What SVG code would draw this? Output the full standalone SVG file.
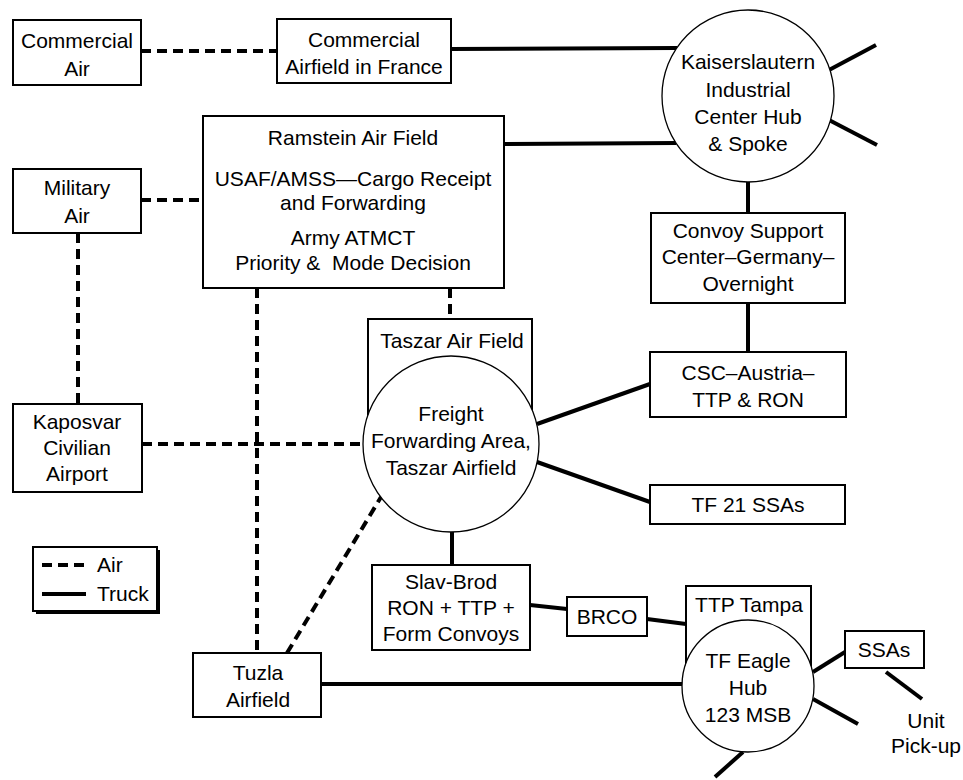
<svg xmlns="http://www.w3.org/2000/svg" width="963" height="780" viewBox="0 0 963 780">
  <style>
    .box { fill: #fff; stroke: #000; stroke-width: 2; }
    .hub { fill: #fff; stroke: #000; stroke-width: 1.3; }
    .t { font-family: "Liberation Sans", Arial, sans-serif; font-size: 21px; fill: #000; text-anchor: middle; }
    .ts { font-family: "Liberation Sans", Arial, sans-serif; font-size: 21px; fill: #000; }
    .truck { stroke: #000; stroke-width: 4; fill: none; }
    .air { stroke: #000; stroke-width: 4; fill: none; stroke-dasharray: 10 6; }
  </style>

  <!-- connectors (drawn first so boxes and hubs sit on top) -->
  <g id="connectors">
    <!-- air routes -->
    <line class="air" x1="141" y1="51" x2="277" y2="51"/>
    <line class="air" x1="141" y1="200" x2="203" y2="200"/>
    <line class="air" x1="78" y1="233" x2="78" y2="404"/>
    <line class="air" x1="142" y1="444" x2="364" y2="444"/>
    <line class="air" x1="257" y1="288" x2="257" y2="653"/>
    <line class="air" x1="450" y1="288" x2="450" y2="319"/>
    <line class="air" x1="287" y1="653" x2="381" y2="497"/>
    <!-- truck routes -->
    <line class="truck" x1="451" y1="49" x2="677" y2="48"/>
    <line class="truck" x1="504" y1="144" x2="676" y2="143"/>
    <line class="truck" x1="829" y1="70" x2="876" y2="45"/>
    <line class="truck" x1="829" y1="120" x2="877" y2="145"/>
    <line class="truck" x1="748" y1="182" x2="748" y2="213"/>
    <line class="truck" x1="748" y1="303" x2="748" y2="352"/>
    <line class="truck" x1="537" y1="424" x2="650" y2="384"/>
    <line class="truck" x1="537" y1="462" x2="650" y2="502"/>
    <line class="truck" x1="452" y1="532" x2="452" y2="565"/>
    <line class="truck" x1="530" y1="605" x2="567" y2="609"/>
    <line class="truck" x1="647" y1="619" x2="686" y2="624"/>
    <line class="truck" x1="321" y1="684" x2="683" y2="684"/>
    <line class="truck" x1="813" y1="672" x2="845" y2="652"/>
    <line class="truck" x1="886" y1="672" x2="922" y2="699"/>
    <line class="truck" x1="813" y1="699" x2="858" y2="724"/>
    <line class="truck" x1="743" y1="752" x2="715" y2="777"/>
  </g>

  <g id="commercial-air">
    <rect class="box" x="13" y="20" width="128" height="65"/>
    <text class="t" x="77" y="48">Commercial</text>
    <text class="t" x="77" y="76">Air</text>
  </g>

  <g id="commercial-airfield-france">
    <rect class="box" x="277" y="19" width="174" height="64"/>
    <text class="t" x="364" y="47">Commercial</text>
    <text class="t" x="364" y="74">Airfield in France</text>
  </g>

  <g id="kaiserslautern">
    <circle class="hub" cx="748" cy="96" r="86"/>
    <text class="t" x="748" y="69">Kaiserslautern</text>
    <text class="t" x="748" y="97">Industrial</text>
    <text class="t" x="748" y="124">Center Hub</text>
    <text class="t" x="748" y="151">&amp; Spoke</text>
  </g>

  <g id="ramstein">
    <rect class="box" x="203" y="116" width="301" height="172"/>
    <text class="t" x="353" y="145">Ramstein Air Field</text>
    <text class="t" x="353" y="186">USAF/AMSS—Cargo Receipt</text>
    <text class="t" x="353" y="210">and Forwarding</text>
    <text class="t" x="353" y="245">Army ATMCT</text>
    <text class="t" x="353" y="270" xml:space="preserve">Priority &amp;  Mode Decision</text>
  </g>

  <g id="military-air">
    <rect class="box" x="13" y="169" width="128" height="64"/>
    <text class="t" x="77" y="195">Military</text>
    <text class="t" x="77" y="223">Air</text>
  </g>

  <g id="convoy-support-germany">
    <rect class="box" x="651" y="213" width="194" height="90"/>
    <text class="t" x="748" y="238">Convoy Support</text>
    <text class="t" x="748" y="264">Center–Germany–</text>
    <text class="t" x="748" y="291">Overnight</text>
  </g>

  <g id="taszar">
    <rect class="box" x="368" y="319" width="164" height="120"/>
    <text class="t" x="452" y="348">Taszar Air Field</text>
    <circle class="hub" cx="451" cy="444" r="88"/>
    <text class="t" x="451" y="421">Freight</text>
    <text class="t" x="451" y="448">Forwarding Area,</text>
    <text class="t" x="451" y="475">Taszar Airfield</text>
  </g>

  <g id="kaposvar">
    <rect class="box" x="13" y="404" width="129" height="88"/>
    <text class="t" x="77" y="429">Kaposvar</text>
    <text class="t" x="77" y="455">Civilian</text>
    <text class="t" x="77" y="481">Airport</text>
  </g>

  <g id="csc-austria">
    <rect class="box" x="650" y="352" width="196" height="65"/>
    <text class="t" x="748" y="380">CSC–Austria–</text>
    <text class="t" x="748" y="407">TTP &amp; RON</text>
  </g>

  <g id="tf21-ssas">
    <rect class="box" x="650" y="485" width="195" height="39"/>
    <text class="t" x="748" y="512">TF 21 SSAs</text>
  </g>

  <g id="legend">
    <rect x="36" y="550" width="124" height="64" fill="#000"/>
    <rect class="box" x="33" y="547" width="124" height="64"/>
    <line class="air" x1="42" y1="565" x2="87" y2="565" stroke-dasharray="9 5"/>
    <text class="ts" x="97" y="572">Air</text>
    <line class="truck" x1="42" y1="594" x2="86" y2="594"/>
    <text class="ts" x="97" y="601">Truck</text>
  </g>

  <g id="slav-brod">
    <rect class="box" x="372" y="565" width="158" height="85"/>
    <text class="t" x="451" y="589">Slav-Brod</text>
    <text class="t" x="451" y="615">RON + TTP +</text>
    <text class="t" x="451" y="641">Form Convoys</text>
  </g>

  <g id="brco">
    <rect class="box" x="567" y="597" width="80" height="39"/>
    <text class="t" x="607" y="624">BRCO</text>
  </g>

  <g id="tuzla">
    <rect class="box" x="193" y="653" width="128" height="64"/>
    <text class="t" x="258" y="680">Tuzla</text>
    <text class="t" x="258" y="707">Airfield</text>
  </g>

  <g id="tf-eagle">
    <rect class="box" x="686" y="586" width="125" height="90"/>
    <text class="t" x="749" y="612">TTP Tampa</text>
    <circle class="hub" cx="748" cy="686" r="66"/>
    <text class="t" x="748" y="668">TF Eagle</text>
    <text class="t" x="748" y="695">Hub</text>
    <text class="t" x="748" y="722">123 MSB</text>
  </g>

  <g id="ssas">
    <rect class="box" x="845" y="631" width="79" height="37"/>
    <text class="t" x="884" y="657">SSAs</text>
  </g>

  <g id="unit-pickup">
    <text class="t" x="926" y="728">Unit</text>
    <text class="t" x="926" y="753">Pick-up</text>
  </g>
</svg>
